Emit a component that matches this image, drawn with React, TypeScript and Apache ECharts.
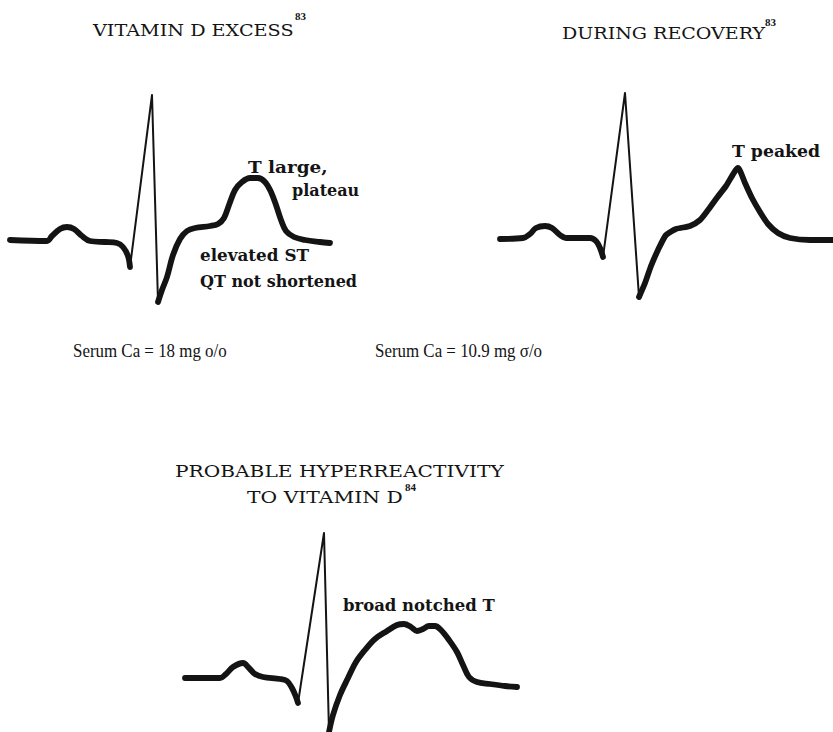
import React, { useEffect, useRef } from "react";
import * as echarts from "echarts";

// Trace 1 – Vitamin D excess (time units, amplitude units above baseline)
const t1Pre = [10, 47, 52, 60, 67, 74, 82, 90, 105, 117, 123, 128, 130];
const v1Pre = [1, 0, 5, 12, 14, 12, 5, 0, -1, -2, -6, -15, -26];
const t1Qrs = [130, 152, 158];
const v1Qrs = [-26, 146, -61];
const t1Post = [158, 162, 167, 173, 180, 187, 195, 210, 218, 224, 229, 235, 242, 250, 258, 265, 271, 276, 281, 286, 294, 305, 320, 330];
const v1Post = [-61, -49, -36, -14, 2, 10, 13, 15, 17, 23, 36, 51, 59, 63, 63, 59, 49, 36, 21, 10, 4, 1, -1, -2];

// Trace 2 – During recovery
const t2Pre = [20, 43, 50, 56, 65, 72, 80, 86, 100, 110, 116, 120, 123];
const v2Pre = [0, 1, 5, 11, 13, 11, 4, 1, 1, 1, -2, -9, -18];
const t2Qrs = [123, 145, 159];
const v2Qrs = [-18, 146, -58];
const t2Post = [159, 165, 171, 178, 186, 196, 210, 220, 228, 236, 246, 258, 265, 272, 280, 288, 298, 310, 330, 353];
const v2Post = [-58, -44, -27, -11, 4, 10, 13, 19, 29, 40, 53, 71, 56, 41, 27, 15, 6, 1, -1, -1];

// Trace 3 – Probable hyperreactivity
const t3Pre = [15, 50, 56, 63, 73, 79, 85, 93, 110, 117, 122, 126, 128];
const v3Pre = [0, 0, 4, 11, 15, 10, 4, 1, -1, -3, -10, -19, -25];
const t3Qrs = [128, 154, 159];
const v3Qrs = [-25, 145, -54];
const t3Post = [159, 163, 170, 178, 186, 195, 205, 217, 227, 234, 241, 247, 253, 259, 265, 271, 279, 287, 293, 299, 307, 320, 335, 347];
const v3Post = [-54, -37, -17, 0, 16, 28, 39, 47, 53, 54, 51, 47, 49, 52, 52, 48, 38, 26, 13, 1, -4, -6, -8, -9];

const titles = ["VITAMIN D EXCESS", "DURING RECOVERY", "PROBABLE HYPERREACTIVITY", "TO VITAMIN D"];
const refs = ["83", "83", "84"];
const notes1 = ["T large,", "plateau", "elevated ST", "QT not shortened"];
const notes2 = ["T peaked"];
const notes3 = ["broad notched T"];
const serum = ["Serum Ca = 18 mg o/o", "Serum Ca = 10.9 mg σ/o"];

const zip = (t: number[], v: number[]) => t.map((x, i) => [x, v[i]]);

export default function App() {
  const ref = useRef<HTMLDivElement>(null);
  useEffect(() => {
    if (!ref.current) return;
    const chart = echarts.init(ref.current, null, { renderer: "svg" });
    const ink = "#141414";
    const thick = 5.8;
    const thin = 2;
    const grids = [
      { left: 0, top: 71, width: 380, height: 240, xmax: 380, ymin: -70, ymax: 170 },
      { left: 480, top: 69, width: 353, height: 240, xmax: 353, ymin: -70, ymax: 170 },
      { left: 170, top: 508, width: 360, height: 224, xmax: 360, ymin: -54, ymax: 170 },
    ];
    const traces = [
      [zip(t1Pre, v1Pre), zip(t1Qrs, v1Qrs), zip(t1Post, v1Post)],
      [zip(t2Pre, v2Pre), zip(t2Qrs, v2Qrs), zip(t2Post, v2Post)],
      [zip(t3Pre, v3Pre), zip(t3Qrs, v3Qrs), zip(t3Post, v3Post)],
    ];
    const series: any[] = [];
    traces.forEach((tr, gi) => {
      tr.forEach((d, k) => {
        series.push({
          type: "line",
          xAxisIndex: gi,
          yAxisIndex: gi,
          data: d,
          symbol: "none",
          smooth: k === 1 ? false : gi === 1 && k === 2 ? 0.2 : 0.35,
          clip: false,
          lineStyle: { color: ink, width: k === 1 ? thin : thick, cap: "round", join: "round" },
        });
      });
    });
    const txt = (text: string, x: number, y: number, size: number, family: string, sx = 1, weight = "normal") => ({
      type: "text",
      x,
      y,
      scaleX: sx,
      style: { text, fill: ink, font: `${weight} ${size}px ${family}`, textAlign: "left", textVerticalAlign: "middle" },
    });
    const serif = '"DejaVu Serif", serif';
    const lib = '"Liberation Serif", serif';
    chart.setOption({
      animation: false,
      backgroundColor: "#ffffff",
      grid: grids.map((g) => ({ left: g.left, top: g.top, width: g.width, height: g.height })),
      xAxis: grids.map((g, i) => ({ type: "value", gridIndex: i, min: 0, max: g.xmax, show: false })),
      yAxis: grids.map((g, i) => ({ type: "value", gridIndex: i, min: g.ymin, max: g.ymax, show: false })),
      series,
      graphic: [
        txt(titles[0], 93, 31, 16, serif, 1.2),
        txt(refs[0], 295, 16, 11, lib, 1, "bold"),
        txt(titles[1], 562, 34, 16, serif, 1.19),
        txt(refs[1], 765, 22, 11, lib, 1, "bold"),
        txt(titles[2], 175, 471, 16, serif, 1.26),
        txt(titles[3], 247, 497, 16, serif, 1.27),
        txt(refs[2], 405, 487, 11, lib, 1, "bold"),
        txt(notes1[0], 248, 167, 16, serif, 1.15, "bold"),
        txt(notes1[1], 292, 190, 16, serif, 1.0, "bold"),
        txt(notes1[2], 200, 256, 16, serif, 1.05, "bold"),
        txt(notes1[3], 200, 281, 16, serif, 1.0, "bold"),
        txt(notes2[0], 732, 151, 16, serif, 1.08, "bold"),
        txt(notes3[0], 343, 606, 16, serif, 1.03, "bold"),
        txt(serum[0], 73, 351, 18, lib, 0.94),
        txt(serum[1], 375, 351, 18, lib, 0.94),
      ],
    });
    return () => chart.dispose();
  }, []);
  return <div ref={ref} style={{ position: "absolute", left: 0, top: 0, width: 833, height: 732, background: "#fff" }} />;
}
